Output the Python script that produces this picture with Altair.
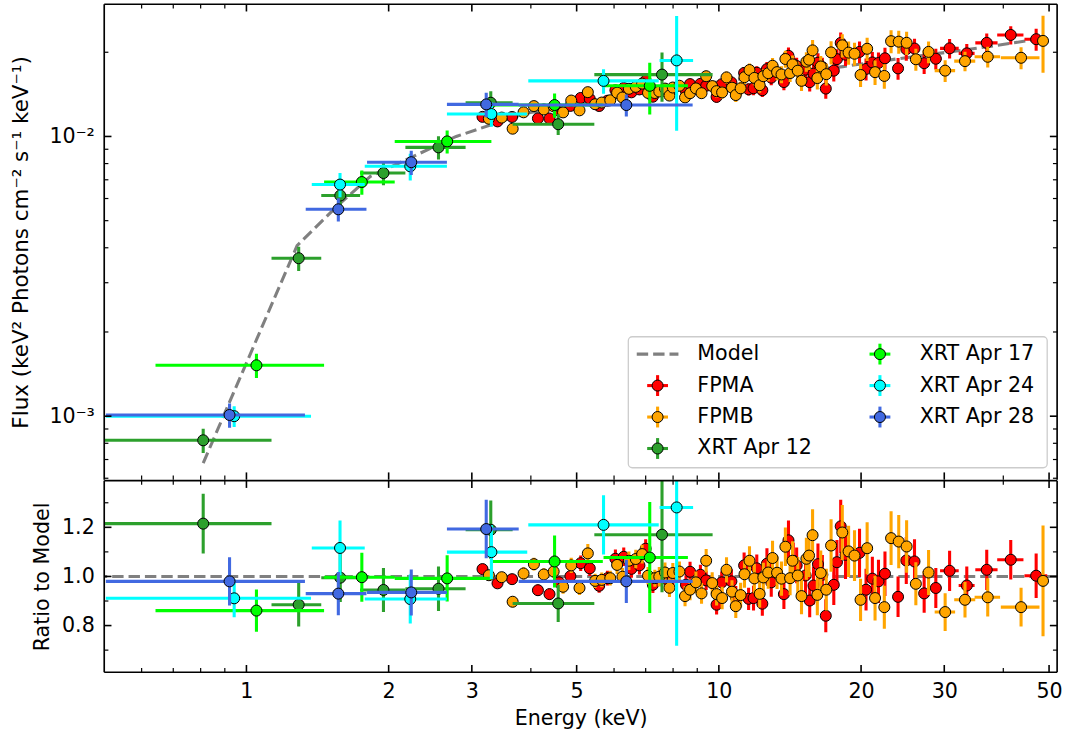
import altair as alt
import pandas as pd

FONT = "DejaVu Sans"
FS = 20.8

# ---------------- data ----------------
series_names = ["FPMA", "FPMB", "XRT Apr 12", "XRT Apr 17", "XRT Apr 24", "XRT Apr 28"]
series_colors = ["#ff0000", "#ffa500", "#2ca02c", "#00ff00", "#00ffff", "#4169e1"]
model_name = "Model"
model_color = "#808080"

x_domain = [0.5, 52.0]
flux_domain = [5.93e-4, 0.0297]
ratio_domain = [0.61, 1.39]

x_major = [1, 2, 3, 5, 10, 20, 30, 50]
x_minor = [0.6, 0.7, 0.8, 0.9, 4, 6, 7, 8, 9, 40]
flux_major = [0.001, 0.01]
flux_minor = [0.0006, 0.0007, 0.0008, 0.0009, 0.002, 0.003, 0.004, 0.005,
              0.006, 0.007, 0.008, 0.009, 0.02]
ratio_major = [0.8, 1.0, 1.2]
ratio_minor = [0.7, 0.9, 1.1, 1.3]

model_E = [0.81, 1.28, 1.56, 1.83, 2.78, 3.9, 6.83, 10.0, 18.3, 24.2, 35.4, 46.8]
model_F = [6.8e-4, 4.07e-3, 5.66e-3, 7.2e-3, 1.0e-2, 1.21e-2, 1.426e-2, 1.57e-2,
           1.777e-2, 1.9e-2, 2.07e-2, 2.22e-2]
model_ratio = [1.0]

fpma_E = [3.16, 3.40, 3.65, 4.14, 4.38, 4.59, 4.85, 5.10, 5.33, 5.58,
          5.81, 6.04, 6.29, 6.53, 6.79, 7.00, 7.25, 7.73, 7.99, 8.52,
          8.69, 9.14, 9.40, 9.89, 10.14, 10.63, 10.86, 11.31, 11.56, 11.84,
          12.03, 12.36, 12.64, 12.91, 13.73, 14.04, 14.37, 14.61, 15.26, 15.57,
          15.86, 16.21, 16.56, 16.84, 17.51, 17.78, 18.11, 18.54, 19.85, 20.49,
          21.13, 21.77, 22.47, 23.95, 24.93, 25.95, 27.20, 28.79, 30.79, 33.48,
          36.90, 41.48, 46.95]
fpma_hw = [0.08, 0.08, 0.08, 0.1, 0.1, 0.1, 0.1, 0.1, 0.1, 0.1,
           0.1, 0.12, 0.12, 0.12, 0.12, 0.12, 0.12, 0.12, 0.12, 0.15,
           0.15, 0.15, 0.15, 0.15, 0.15, 0.2, 0.2, 0.2, 0.2, 0.2,
           0.2, 0.2, 0.2, 0.2, 0.25, 0.25, 0.25, 0.25, 0.25, 0.25,
           0.3, 0.3, 0.3, 0.3, 0.3, 0.3, 0.3, 0.3, 0.35, 0.35,
           0.35, 0.4, 0.4, 0.45, 0.5, 0.55, 0.7, 0.8, 1.4, 1.3,
           2.0, 2.65, 2.6]
fpma_F = [0.01175, 0.01132, 0.01174, 0.01160, 0.01159, 0.01236, 0.01286, 0.01373, 0.01363, 0.01285,
          0.01342, 0.01463, 0.01491, 0.01438, 0.01473, 0.01583, 0.01387, 0.01447, 0.01469, 0.01450,
          0.01539, 0.01542, 0.01518, 0.01385, 0.01537, 0.01560, 0.01463, 0.01687, 0.01474, 0.01487,
          0.01690, 0.01463, 0.01741, 0.01622, 0.01565, 0.01943, 0.01812, 0.01787, 0.01733, 0.01564,
          0.01677, 0.01836, 0.01770, 0.01483, 0.01719, 0.01890, 0.02159, 0.01961, 0.02006, 0.01743,
          0.01839, 0.01831, 0.01903, 0.01751, 0.02051, 0.02062, 0.01828, 0.01896, 0.02065, 0.01982,
          0.02161, 0.02306, 0.02227]
fpma_R = [1.030, 0.972, 0.989, 0.944, 0.928, 0.976, 1.001, 1.054, 1.033, 0.962,
          0.993, 1.072, 1.080, 1.031, 1.045, 1.113, 0.966, 0.990, 0.996, 0.966,
          1.019, 1.007, 0.984, 0.885, 0.976, 0.980, 0.915, 1.045, 0.909, 0.912,
          1.033, 0.889, 1.052, 0.976, 0.928, 1.147, 1.064, 1.045, 1.004, 0.902,
          0.963, 1.050, 1.007, 0.840, 0.966, 1.058, 1.204, 1.088, 1.096, 0.946,
          0.991, 0.980, 1.011, 0.917, 1.065, 1.061, 0.931, 0.953, 1.023, 0.963,
          1.027, 1.068, 1.003]
fpma_err = [0.02, 0.02, 0.02, 0.025, 0.025, 0.025, 0.025, 0.03, 0.03, 0.03,
            0.03, 0.035, 0.035, 0.035, 0.035, 0.035, 0.035, 0.04, 0.04, 0.04,
            0.04, 0.04, 0.04, 0.045, 0.045, 0.05, 0.05, 0.05, 0.05, 0.055,
            0.055, 0.055, 0.06, 0.06, 0.065, 0.07, 0.07, 0.07, 0.075, 0.075,
            0.08, 0.08, 0.08, 0.08, 0.085, 0.085, 0.09, 0.09, 0.09, 0.09,
            0.09, 0.09, 0.09, 0.09, 0.09, 0.085, 0.085, 0.085, 0.08, 0.08,
            0.08, 0.075, 0.09]

fpmb_E = [3.26, 3.47, 3.66, 3.86, 4.06, 4.26, 4.47, 4.68, 4.87, 5.07,
          5.28, 5.47, 5.65, 5.89, 6.09, 6.25, 6.45, 6.67, 6.88, 7.08,
          7.32, 7.48, 7.69, 7.86, 7.99, 8.25, 8.48, 8.69, 8.94, 9.19,
          9.40, 9.68, 9.89, 10.16, 10.38, 10.66, 10.86, 11.12, 11.33, 11.61,
          11.89, 12.20, 12.42, 12.72, 12.99, 13.28, 13.57, 13.83, 14.15, 14.32,
          14.69, 14.96, 15.32, 15.52, 15.79, 16.16, 16.43, 16.88, 17.28, 18.25,
          18.82, 19.37, 19.95, 20.60, 21.41, 22.40, 23.15, 24.03, 24.97, 26.12,
          27.79, 30.13, 33.19, 37.08, 43.62, 48.55]
fpmb_hw = [0.08, 0.08, 0.1, 0.1, 0.1, 0.1, 0.1, 0.1, 0.1, 0.1,
           0.1, 0.1, 0.1, 0.12, 0.12, 0.12, 0.12, 0.12, 0.12, 0.12,
           0.12, 0.12, 0.12, 0.12, 0.15, 0.15, 0.15, 0.15, 0.15, 0.15,
           0.15, 0.15, 0.15, 0.15, 0.2, 0.2, 0.2, 0.2, 0.2, 0.2,
           0.2, 0.2, 0.2, 0.2, 0.2, 0.25, 0.25, 0.25, 0.25, 0.25,
           0.25, 0.25, 0.3, 0.3, 0.3, 0.3, 0.3, 0.3, 0.3, 0.35,
           0.35, 0.35, 0.35, 0.4, 0.4, 0.45, 0.45, 0.45, 0.5, 0.6,
           0.8, 1.5, 1.7, 2.3, 4.1, 1.0]
fpmb_F = [0.01157, 0.01168, 0.01066, 0.01220, 0.01284, 0.01249, 0.01281, 0.01219, 0.01344, 0.01240,
          0.01440, 0.01304, 0.01322, 0.01347, 0.01433, 0.01378, 0.01480, 0.01504, 0.01545, 0.01431,
          0.01430, 0.01448, 0.01483, 0.01400, 0.01496, 0.01518, 0.01379, 0.01428, 0.01485, 0.01428,
          0.01642, 0.01514, 0.01452, 0.01437, 0.01626, 0.01494, 0.01406, 0.01486, 0.01629, 0.01728,
          0.01619, 0.01525, 0.01642, 0.01684, 0.01790, 0.01698, 0.01666, 0.01892, 0.01685, 0.01810,
          0.01718, 0.01581, 0.01851, 0.01880, 0.02031, 0.01617, 0.01779, 0.01670, 0.01998, 0.02118,
          0.01994, 0.01976, 0.01659, 0.02058, 0.01698, 0.01646, 0.02191, 0.02182, 0.02162, 0.01888,
          0.02006, 0.01719, 0.01859, 0.01927, 0.01911, 0.02196]
fpmb_R = [1.005, 0.997, 0.897, 1.012, 1.050, 1.008, 1.020, 0.958, 1.045, 0.953,
          1.094, 0.982, 0.986, 0.993, 1.047, 0.999, 1.064, 1.071, 1.091, 1.003,
          0.993, 0.999, 1.016, 0.954, 1.014, 1.020, 0.920, 0.946, 0.976, 0.931,
          1.064, 0.973, 0.928, 0.912, 1.027, 0.938, 0.879, 0.924, 1.009, 1.064,
          0.992, 0.929, 0.996, 1.016, 1.075, 1.015, 0.991, 1.121, 0.993, 1.064,
          1.004, 0.920, 1.072, 1.085, 1.168, 0.925, 1.014, 0.946, 1.126, 1.179,
          1.102, 1.085, 0.905, 1.115, 0.912, 0.875, 1.156, 1.142, 1.122, 0.970,
          1.016, 0.855, 0.905, 0.915, 0.875, 0.982]
fpmb_err = [0.02, 0.02, 0.025, 0.025, 0.025, 0.025, 0.025, 0.03, 0.03, 0.03,
            0.035, 0.03, 0.03, 0.03, 0.035, 0.035, 0.035, 0.035, 0.035, 0.035,
            0.035, 0.04, 0.04, 0.04, 0.04, 0.04, 0.045, 0.045, 0.045, 0.045,
            0.045, 0.045, 0.05, 0.05, 0.05, 0.05, 0.055, 0.055, 0.055, 0.055,
            0.06, 0.06, 0.06, 0.065, 0.065, 0.065, 0.07, 0.07, 0.07, 0.075,
            0.075, 0.08, 0.08, 0.08, 0.09, 0.09, 0.09, 0.09, 0.095, 0.095,
            0.095, 0.095, 0.095, 0.095, 0.1, 0.1, 0.095, 0.095, 0.095, 0.09,
            0.09, 0.09, 0.08, 0.085, 0.09, 0.23]

xrt12_E = [0.81, 1.29, 1.58, 1.95, 2.55, 3.29, 4.57, 7.58]
xrt12_lo = [0.50, 1.13, 1.44, 1.74, 2.17, 2.91, 3.66, 5.45]
xrt12_hi = [1.13, 1.44, 1.74, 2.17, 2.91, 3.66, 5.45, 9.70]
xrt12_F = [8.2e-4, 3.67e-3, 6.15e-3, 7.40e-3, 9.14e-3, 1.32e-2, 1.106e-2, 1.664e-2]
xrt12_R = [1.215, 0.885, 0.995, 0.945, 0.95, 1.19, 0.89, 1.17]
xrt12_err = [0.10, 0.10, 0.10, 0.095, 0.095, 0.10, 0.085, 0.20]

xrt17_E = [1.05, 1.755, 2.66, 4.49, 7.14]
xrt17_lo = [0.642, 1.46, 2.06, 3.32, 5.70]
xrt17_hi = [1.46, 2.06, 3.30, 5.68, 8.60]
xrt17_F = [1.52e-3, 6.87e-3, 9.6e-3, 1.295e-2, 1.517e-2]
xrt17_R = [0.861, 0.997, 0.992, 1.061, 1.077]
xrt17_err = [0.10, 0.10, 0.095, 0.10, 0.21]

xrt24_E = [0.942, 1.578, 2.222, 3.30, 5.70, 8.14]
xrt24_lo = [0.504, 1.375, 1.78, 2.657, 3.95, 7.49]
xrt24_hi = [1.37, 1.78, 2.657, 3.93, 7.46, 8.82]
xrt24_F = [1.0e-3, 6.73e-3, 7.82e-3, 1.203e-2, 1.58e-2, 1.87e-2]
xrt24_R = [0.911, 1.116, 0.908, 1.099, 1.21, 1.281]
xrt24_err = [0.085, 0.10, 0.11, 0.10, 0.10, 0.44]

xrt28_E = [0.921, 1.565, 2.233, 3.218, 6.37]
xrt28_lo = [0.504, 1.335, 1.80, 2.657, 3.77]
xrt28_hi = [1.33, 1.795, 2.657, 3.77, 8.80]
xrt28_F = [1.01e-3, 5.49e-3, 8.09e-3, 1.302e-2, 1.295e-2]
xrt28_R = [0.98, 0.93, 0.935, 1.193, 0.98]
xrt28_err = [0.10, 0.095, 0.10, 0.10, 0.09]


# ---------------- tables ----------------
def make_df(E, lo, hi, F, R, err):
    return pd.DataFrame({
        "E": E, "xlo": lo, "xhi": hi,
        "F": F,
        "Flo": [f * (1 - e) for f, e in zip(F, err)],
        "Fhi": [f * (1 + e) for f, e in zip(F, err)],
        "R": R,
        "Rlo": [r * (1 - e) for r, e in zip(R, err)],
        "Rhi": [r * (1 + e) for r, e in zip(R, err)],
    })


series_tables = [
    make_df(fpma_E, [e - h for e, h in zip(fpma_E, fpma_hw)],
            [e + h for e, h in zip(fpma_E, fpma_hw)], fpma_F, fpma_R, fpma_err),
    make_df(fpmb_E, [e - h for e, h in zip(fpmb_E, fpmb_hw)],
            [e + h for e, h in zip(fpmb_E, fpmb_hw)], fpmb_F, fpmb_R, fpmb_err),
    make_df(xrt12_E, xrt12_lo, xrt12_hi, xrt12_F, xrt12_R, xrt12_err),
    make_df(xrt17_E, xrt17_lo, xrt17_hi, xrt17_F, xrt17_R, xrt17_err),
    make_df(xrt24_E, xrt24_lo, xrt24_hi, xrt24_F, xrt24_R, xrt24_err),
    make_df(xrt28_E, xrt28_lo, xrt28_hi, xrt28_F, xrt28_R, xrt28_err),
]
model_df = pd.DataFrame({"E": model_E, "F": model_F})
model_ratio_df = pd.DataFrame({"R": model_ratio})

# ---------------- styling ----------------
W, HT, HB = 960, 479, 193
EB_W = 3.1
MS = 123
MAJ_L, MIN_L = 7.3, 4.2
DASH = [11.5, 5]
FRAME_W = 1.67

xscale = alt.Scale(type="log", domain=x_domain, nice=False)
fscale = alt.Scale(type="log", domain=flux_domain, nice=False)
rscale = alt.Scale(domain=ratio_domain, nice=False, zero=False)

common_axis = dict(ticks=False, tickSize=0, domain=False, grid=False, labelFont=FONT,
                   labelFontSize=FS, labelColor="black", titleFont=FONT,
                   titleFontWeight="normal", titleColor="black", labelFlush=False,
                   labelOverlap=False)

flux_axis = alt.Axis(values=flux_major,
                     labelExpr="datum.value < 0.005 ? '10\u207b\u00b3' : '10\u207b\u00b2'",
                     labelPadding=10, minExtent=56, maxExtent=56, titlePadding=16,
                     titleFontSize=21.6,
                     title="Flux (keV\u00b2 Photons cm\u207b\u00b2 s\u207b\u00b9 keV\u207b\u00b9)",
                     **common_axis)
ratio_axis = alt.Axis(values=ratio_major, format=".1f", labelPadding=10,
                      minExtent=56, maxExtent=56, titlePadding=-4, titleFontSize=FS,
                      title="Ratio to Model", **common_axis)
energy_axis = alt.Axis(values=x_major, format="d", labelPadding=9, titlePadding=8,
                       titleFontSize=FS, title="Energy (keV)", **common_axis)

one_row = pd.DataFrame({"k": [0]})


def frame_layers(H, top_edge, bottom_edge):
    out = [
        alt.Chart(one_row).mark_rule(color="black", strokeWidth=FRAME_W).encode(
            x=alt.value(0), y=alt.value(0), y2=alt.value(H)),
        alt.Chart(one_row).mark_rule(color="black", strokeWidth=FRAME_W).encode(
            x=alt.value(W), y=alt.value(0), y2=alt.value(H)),
    ]
    if top_edge:
        out.append(alt.Chart(one_row).mark_rule(color="black", strokeWidth=FRAME_W).encode(
            x=alt.value(0), x2=alt.value(W), y=alt.value(0)))
    if bottom_edge:
        out.append(alt.Chart(one_row).mark_rule(color="black", strokeWidth=FRAME_W).encode(
            x=alt.value(0), x2=alt.value(W), y=alt.value(H)))
    return out


def tick_layers(xaxis, yscale, yaxis, H, ymaj, ymin):
    out = []
    for vals, L, w in [(x_major, MAJ_L, 1.6), (x_minor, MIN_L, 1.2)]:
        d = pd.DataFrame({"v": vals})
        xe = alt.X("v:Q", scale=xscale, axis=xaxis)
        out.append(alt.Chart(d).mark_rule(color="black", strokeWidth=w).encode(
            x=xe, y=alt.value(0), y2=alt.value(L)))
        out.append(alt.Chart(d).mark_rule(color="black", strokeWidth=w).encode(
            x=xe, y=alt.value(H), y2=alt.value(H - L)))
    for vals, L, w in [(ymaj, MAJ_L, 1.6), (ymin, MIN_L, 1.2)]:
        d = pd.DataFrame({"v": vals})
        ye = alt.Y("v:Q", scale=yscale, axis=yaxis)
        out.append(alt.Chart(d).mark_rule(color="black", strokeWidth=w).encode(
            y=ye, x=alt.value(0), x2=alt.value(L)))
        out.append(alt.Chart(d).mark_rule(color="black", strokeWidth=w).encode(
            y=ye, x=alt.value(W), x2=alt.value(W - L)))
    return out


def series_layers(df, color, yf, ylo, yhi, yscale, xaxis, yaxis):
    xe = alt.Chart(df).mark_rule(color=color, strokeWidth=EB_W, clip=True).encode(
        x=alt.X("xlo:Q", scale=xscale, axis=xaxis), x2=alt.X2("xhi:Q"),
        y=alt.Y(f"{yf}:Q", scale=yscale, axis=yaxis))
    ye = alt.Chart(df).mark_rule(color=color, strokeWidth=EB_W, clip=True).encode(
        x=alt.X("E:Q", scale=xscale, axis=xaxis),
        y=alt.Y(f"{ylo}:Q", scale=yscale, axis=yaxis), y2=alt.Y2(f"{yhi}:Q"))
    pt = alt.Chart(df).mark_circle(size=MS, color=color, stroke="black", strokeWidth=1,
                                   opacity=1, clip=True).encode(
        x=alt.X("E:Q", scale=xscale, axis=xaxis),
        y=alt.Y(f"{yf}:Q", scale=yscale, axis=yaxis))
    return [xe, ye, pt]


# ---------------- legend (drawn as a guide inside the top panel) ----------------
legend_names = [model_name] + series_names
legend_colors = [model_color] + series_colors
ROWS = 4
BOX_L, BOX_T, BOX_R, BOX_B = 528, 335, 950, 467
COL_X = [557.5, 781.5]
ROW0, ROW_DY = 352.5, 31.7
LAB_DX = 40
HALF = 10.5


def legend_layers():
    out = [alt.Chart(one_row).mark_rect(
        fill="white", fillOpacity=0.85, stroke="#cccccc", strokeWidth=1.3, cornerRadius=4
    ).encode(x=alt.value(BOX_L), x2=alt.value(BOX_R), y=alt.value(BOX_T), y2=alt.value(BOX_B))]
    for i, (name, col) in enumerate(zip(legend_names, legend_colors)):
        cx = COL_X[i // ROWS]
        cy = ROW0 + ROW_DY * (i % ROWS)
        d = pd.DataFrame({"name": [name]})
        if name == model_name:
            out.append(alt.Chart(d).mark_rule(color=col, strokeWidth=EB_W, strokeDash=DASH).encode(
                x=alt.value(cx - 21), x2=alt.value(cx + 21), y=alt.value(cy)))
        else:
            out.append(alt.Chart(d).mark_rule(color=col, strokeWidth=EB_W).encode(
                x=alt.value(cx - HALF), x2=alt.value(cx + HALF), y=alt.value(cy)))
            out.append(alt.Chart(d).mark_rule(color=col, strokeWidth=EB_W).encode(
                x=alt.value(cx), y=alt.value(cy - HALF), y2=alt.value(cy + HALF)))
            out.append(alt.Chart(d).mark_point(shape="circle", filled=True, size=MS, fill=col,
                                               stroke="black", strokeWidth=1, opacity=1).encode(
                x=alt.value(cx), y=alt.value(cy)))
        out.append(alt.Chart(d).mark_text(align="left", baseline="middle", font=FONT,
                                          fontSize=FS, color="black").encode(
            x=alt.value(cx + LAB_DX), y=alt.value(cy), text="name:N"))
    return out


# ---------------- top panel ----------------
top_layers = [alt.Chart(model_df).mark_line(color=model_color, strokeDash=DASH,
                                             strokeWidth=EB_W, clip=True).encode(
    x=alt.X("E:Q", scale=xscale, axis=None),
    y=alt.Y("F:Q", scale=fscale, axis=flux_axis))]
for df, c in zip(series_tables, series_colors):
    top_layers += series_layers(df, c, "F", "Flo", "Fhi", fscale, None, flux_axis)
top_layers += tick_layers(None, fscale, flux_axis, HT, flux_major, flux_minor)
top_layers += frame_layers(HT, top_edge=True, bottom_edge=False)
top_layers += legend_layers()
top = alt.layer(*top_layers).properties(width=W, height=HT)

# ---------------- bottom panel ----------------
bot_layers = [alt.Chart(model_ratio_df).mark_rule(color=model_color, strokeDash=DASH,
                                                  strokeWidth=EB_W).encode(
    y=alt.Y("R:Q", scale=rscale, axis=ratio_axis))]
for df, c in zip(series_tables, series_colors):
    bot_layers += series_layers(df, c, "R", "Rlo", "Rhi", rscale, energy_axis, ratio_axis)
bot_layers += tick_layers(energy_axis, rscale, ratio_axis, HB, ratio_major, ratio_minor)
bot_layers += frame_layers(HB, top_edge=True, bottom_edge=True)
bottom = alt.layer(*bot_layers).properties(width=W, height=HB)

chart = alt.vconcat(top, bottom, spacing=-1.3).resolve_scale(
    x="independent", y="independent"
).properties(
    padding={"left": 11, "top": 0.5, "right": 10, "bottom": 5}
).configure_view(strokeWidth=0)

chart.save("out.html", embed_options={"renderer": "svg", "actions": False})
